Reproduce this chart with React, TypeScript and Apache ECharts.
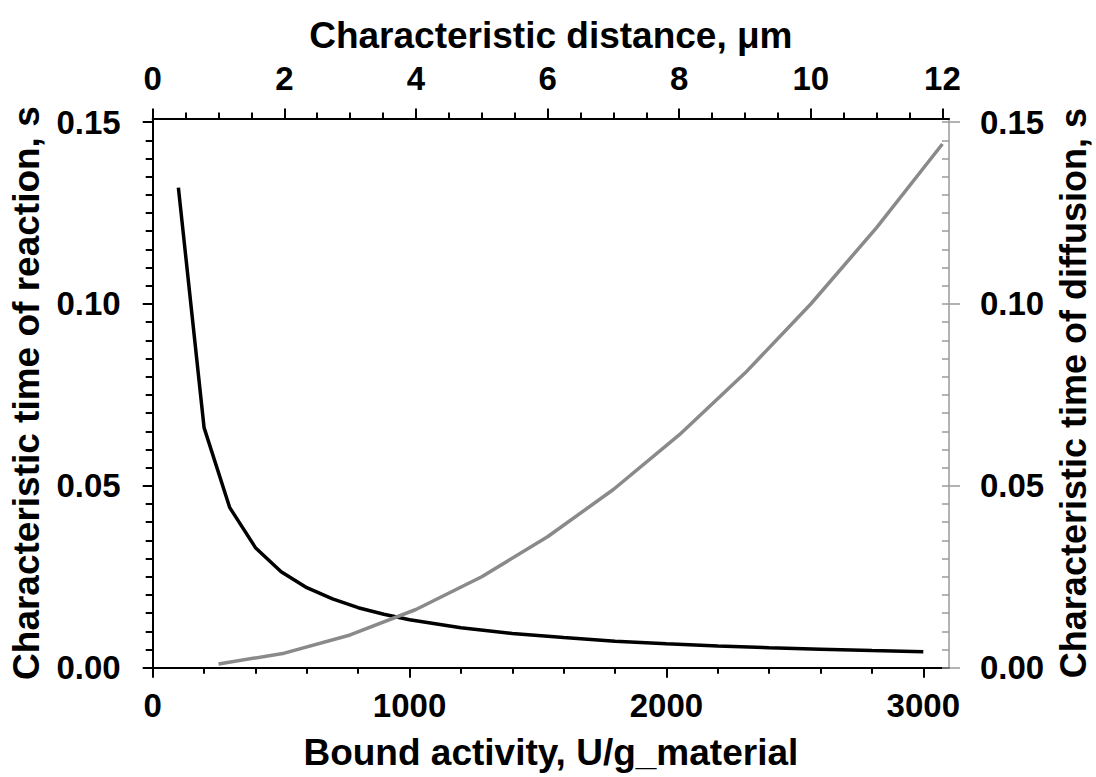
import React, { useEffect, useRef } from "react";
import * as echarts from "echarts";

// Bound activity (U/g_material) vs characteristic time of reaction (s)
const activity = [100, 200, 300, 400, 500, 600, 700, 800, 900, 1000, 1200, 1400, 1600, 1800, 2000, 2200, 2400, 2600, 2800, 3000];
const reactionTime = [0.132, 0.066, 0.044, 0.033, 0.0264, 0.022, 0.0189, 0.0165, 0.0147, 0.0132, 0.011, 0.0094, 0.0083, 0.0073, 0.0066, 0.006, 0.0055, 0.0051, 0.0047, 0.0044];

// Characteristic distance (µm) vs characteristic time of diffusion (s)
const distance = [1, 2, 3, 4, 5, 6, 7, 8, 9, 10, 11, 12];
const diffusionTime = [0.001, 0.004, 0.009, 0.016, 0.025, 0.036, 0.049, 0.064, 0.081, 0.1, 0.121, 0.144];

// Tick labels
const bottomTicks = [0, 1000, 2000, 3000];
const topTicks = [0, 2, 4, 6, 8, 10, 12];
const timeTicks = [0, 0.05, 0.1, 0.15];

const range = (start: number, stop: number, step: number) => {
  const out: number[] = [];
  const n = Math.round((stop - start) / step);
  for (let i = 0; i <= n; i++) out.push(+(start + i * step).toFixed(6));
  return out;
};
const bottomMinor = range(0, 3000, 200);
const topMinor = range(0, 12, 0.5);
const timeMinor = range(0, 0.15, 0.005);

const FONT = "'Liberation Sans', Arial, Helvetica, sans-serif";
const BLACK = "#000000";
const GRAY_LINE = "#8a8a8a";
const GRAY_AXIS = "#9a9a9a";

const labelStyle = {
  fontFamily: FONT,
  fontWeight: "bold" as const,
  fontSize: 33,
  color: BLACK,
};
const nameStyle = {
  fontFamily: FONT,
  fontWeight: "bold" as const,
  fontSize: 37,
  color: BLACK,
};

export default function App() {
  const ref = useRef<HTMLDivElement>(null);
  useEffect(() => {
    if (!ref.current) return;
    const chart = echarts.init(ref.current, undefined, { renderer: "svg" });
    const X_MAX = 3100;
    const TOP_MAX = 12.1;
    const Y_MAX = 0.151;
    chart.setOption({
      animation: false,
      backgroundColor: "#ffffff",
      grid: {
        left: 152.7,
        right: 147,
        top: 118.5,
        bottom: 109.3,
        containLabel: false,
        outerBoundsMode: "none",
      },
      xAxis: [
        {
          type: "value",
          position: "bottom",
          min: 0,
          max: X_MAX,
          name: "Bound activity, U/g_material",
          nameLocation: "middle",
          nameGap: 66,
          nameTextStyle: nameStyle,
          axisLine: { onZero: false, lineStyle: { color: BLACK, width: 2 } },
          axisTick: { customValues: bottomTicks, length: 10, lineStyle: { color: BLACK, width: 2 } },
          axisLabel: { customValues: bottomTicks, margin: 21, formatter: (v: number) => String(v), ...labelStyle },
          splitLine: { show: false },
        },
        {
          type: "value",
          position: "top",
          min: 0,
          max: TOP_MAX,
          name: "Characteristic distance, μm",
          nameLocation: "middle",
          nameGap: 65,
          nameTextStyle: nameStyle,
          axisLine: { onZero: false, lineStyle: { color: BLACK, width: 2 } },
          axisTick: { customValues: topTicks, length: 10, lineStyle: { color: BLACK, width: 2 } },
          axisLabel: { customValues: topTicks, margin: 24, formatter: (v: number) => String(v), ...labelStyle },
          splitLine: { show: false },
        },
        {
          type: "value",
          position: "bottom",
          min: 0,
          max: X_MAX,
          axisLine: { show: false, onZero: false },
          axisTick: { customValues: bottomMinor, length: 6, lineStyle: { color: BLACK, width: 2 } },
          axisLabel: { show: false },
          splitLine: { show: false },
        },
        {
          type: "value",
          position: "top",
          min: 0,
          max: TOP_MAX,
          axisLine: { show: false, onZero: false },
          axisTick: { customValues: topMinor, length: 6, lineStyle: { color: BLACK, width: 2 } },
          axisLabel: { show: false },
          splitLine: { show: false },
        },
      ],
      yAxis: [
        {
          type: "value",
          position: "left",
          min: 0,
          max: Y_MAX,
          name: "Characteristic time of reaction, s",
          nameLocation: "middle",
          nameGap: 108,
          nameTextStyle: nameStyle,
          axisLine: { onZero: false, lineStyle: { color: BLACK, width: 2 } },
          axisTick: { customValues: timeTicks, length: 10, lineStyle: { color: BLACK, width: 2 } },
          axisLabel: {
            customValues: timeTicks,
            margin: 32,
            formatter: (v: number) => v.toFixed(2),
            ...labelStyle,
          },
          splitLine: { show: false },
        },
        {
          type: "value",
          position: "right",
          min: 0,
          max: Y_MAX,
          name: "Characteristic time of diffusion, s",
          nameLocation: "middle",
          nameGap: 104,
          nameTextStyle: { ...nameStyle, fontSize: 36 },
          axisLine: { onZero: false, lineStyle: { color: GRAY_AXIS, width: 1.5 } },
          axisTick: { customValues: timeTicks, length: 11, lineStyle: { color: GRAY_AXIS, width: 1.5 } },
          axisLabel: {
            customValues: timeTicks,
            margin: 31,
            formatter: (v: number) => v.toFixed(2),
            ...labelStyle,
          },
          splitLine: { show: false },
        },
        {
          type: "value",
          position: "left",
          min: 0,
          max: Y_MAX,
          axisLine: { show: false, onZero: false },
          axisTick: { customValues: timeMinor, length: 7, lineStyle: { color: BLACK, width: 2 } },
          axisLabel: { show: false },
          splitLine: { show: false },
        },
        {
          type: "value",
          position: "right",
          min: 0,
          max: Y_MAX,
          axisLine: { show: false, onZero: false },
          axisTick: { customValues: timeMinor, inside: true, length: 7, lineStyle: { color: GRAY_AXIS, width: 1.5 } },
          axisLabel: { show: false },
          splitLine: { show: false },
        },
      ],
      series: [
        {
          type: "line",
          name: "reaction",
          xAxisIndex: 0,
          yAxisIndex: 0,
          data: activity.map((a, i) => [a, reactionTime[i]]),
          showSymbol: false,
          symbol: "none",
          lineStyle: { color: BLACK, width: 3.5 },
        },
        {
          type: "line",
          name: "diffusion",
          xAxisIndex: 1,
          yAxisIndex: 1,
          data: distance.map((d, i) => [d, diffusionTime[i]]),
          showSymbol: false,
          symbol: "none",
          lineStyle: { color: GRAY_LINE, width: 3.5 },
        },
      ],
    });
    return () => chart.dispose();
  }, []);
  return (
    <div
      ref={ref}
      style={{ position: "absolute", left: 0, top: 0, width: 1096, height: 777, background: "#fff" }}
    />
  );
}
